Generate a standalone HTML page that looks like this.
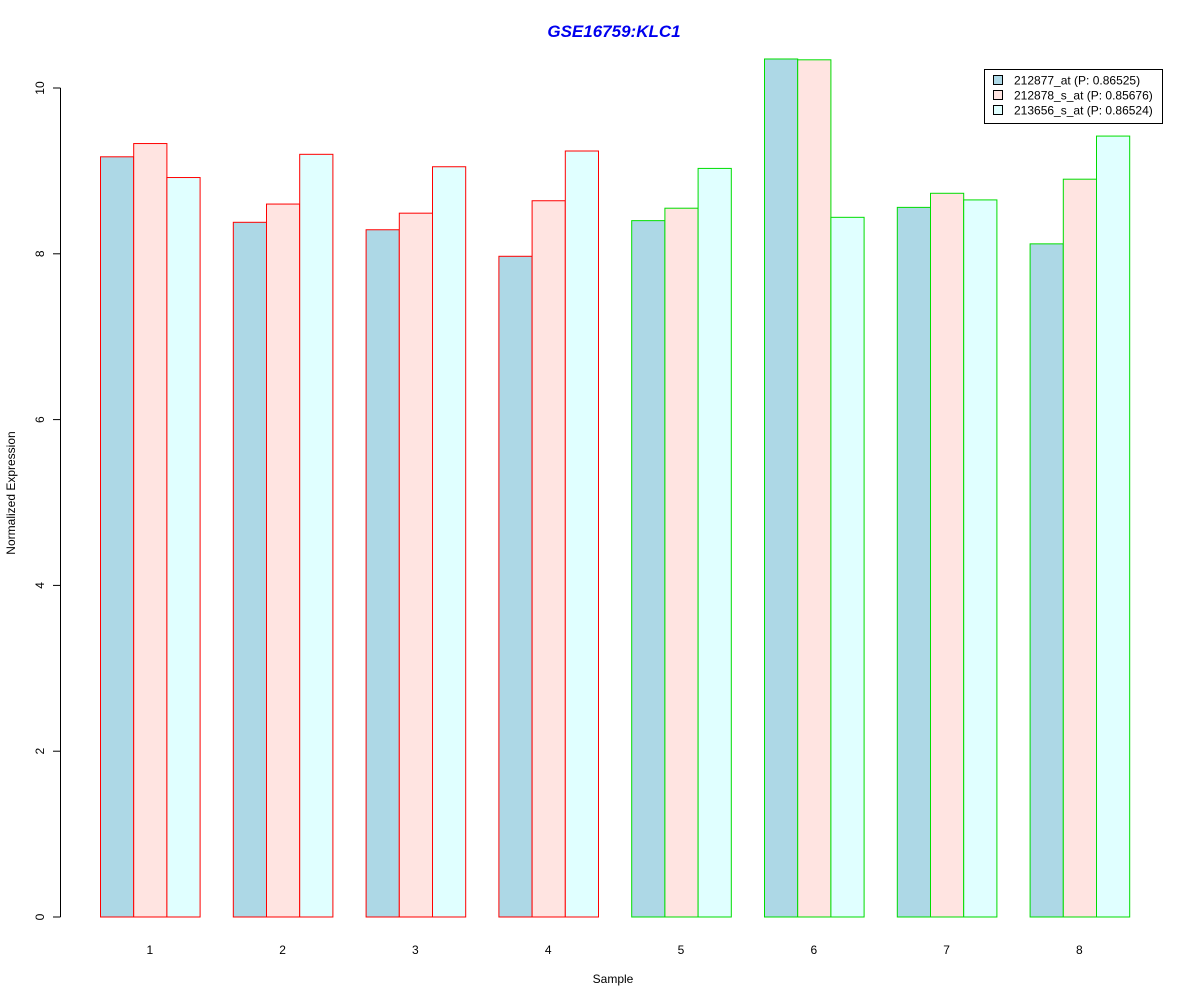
<!DOCTYPE html>
<html><head><meta charset="utf-8"><style>
html,body{margin:0;padding:0;background:#fff;}
svg{display:block;font-family:"Liberation Sans",Arial,sans-serif;}
</style></head><body>
<svg id="chart" width="1200" height="1000"></svg>
<script>
const categories = ["1","2","3","4","5","6","7","8"];
const seriesNames = ["212877_at (P: 0.86525)","212878_s_at (P: 0.85676)","213656_s_at (P: 0.86524)"];
const series1 = [9.17,8.38,8.29,7.97,8.40,10.35,8.56,8.12];
const series2 = [9.33,8.60,8.49,8.64,8.55,10.34,8.73,8.90];
const series3 = [8.92,9.20,9.05,9.24,9.03,8.44,8.65,9.42];
const groupClass = ["a","a","a","a","b","b","b","b"];
const yTicks = [0,2,4,6,8,10];

const fills = ["#add8e6","#ffe4e1","#e0ffff"];
const borders = {a:"#ff0000", b:"#00dd00"};
const NS = "http://www.w3.org/2000/svg";
const svg = document.getElementById("chart");
const y0 = 917, yPerUnit = 82.9;
const yScale = v => y0 - v * yPerUnit;
const barW = 33.2, x0 = 100 - barW;
const xBar = (g, s) => x0 + barW * (1 + g * 4 + s);
function mk(tag, attrs, text){
  const e = document.createElementNS(NS, tag);
  for (const k in attrs) e.setAttribute(k, attrs[k]);
  if (text !== undefined) e.textContent = text;
  svg.appendChild(e);
  return e;
}
// title
let t = mk("text",{x:614,y:37,"text-anchor":"middle","font-size":17,"font-weight":"bold","font-style":"italic",fill:"#0000ee"},"GSE16759:KLC1");


// bars
const all = [series1, series2, series3];
all.forEach((vals, s) => {
  vals.forEach((v, g) => {
    const r = mk("rect",{x:xBar(g,s)+0.5,y:yScale(v),width:barW,height:y0-yScale(v),fill:fills[s],stroke:borders[groupClass[g]],"stroke-width":1});
    
    
  });
});
// y axis
let ax = mk("line",{x1:60.5,x2:60.5,y1:yScale(0),y2:yScale(10),stroke:"#000"});


yTicks.forEach(v => {
  const yy = yScale(v);
  const tk = mk("line",{x1:53,x2:60.5,y1:yy,y2:yy,stroke:"#000"});
  
  
  const lb = mk("text",{x:44,y:yy,"font-size":12,"text-anchor":"middle",transform:`rotate(-90 44 ${yy})`},String(v));
  
  
});
// x labels
categories.forEach((c, g) => {
  const lb = mk("text",{x:xBar(g,1)+barW/2,y:954,"font-size":12,"text-anchor":"middle"},c);
  
  
});
let xt = mk("text",{x:613,y:983,"font-size":12,"text-anchor":"middle"},"Sample");


let yt = mk("text",{x:15,y:493,"font-size":12,"text-anchor":"middle",transform:"rotate(-90 15 493)"},"Normalized Expression");


// legend
let lg = mk("rect",{x:984.5,y:69.5,width:178,height:54,fill:"#fff",stroke:"#000"});


seriesNames.forEach((n, i) => {
  const yy = 80 + i * 15;
  const sw = mk("rect",{x:993.5,y:yy-4.5,width:9,height:9,fill:fills[i],stroke:"#000"});
  
  
  const tx = mk("text",{x:1014,y:yy+4.5,"font-size":12},n);
  
  
});
</script>
</body></html>
